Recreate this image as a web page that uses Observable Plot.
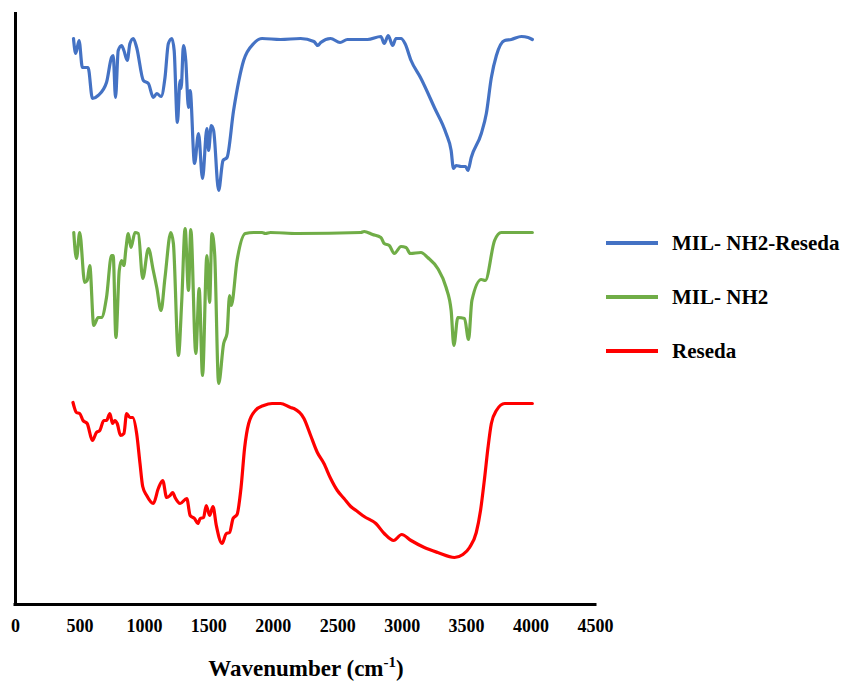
<!DOCTYPE html>
<html><head><meta charset="utf-8">
<script src="https://cdn.jsdelivr.net/npm/d3@7"></script>
<script src="https://cdn.jsdelivr.net/npm/@observablehq/plot@0.6"></script>
<style>body{margin:0;background:#fff} svg{display:block}</style>
</head><body><div id="chart"></div>
<script>
const seriesNames = ["MIL- NH2-Reseda", "MIL- NH2", "Reseda"];
const seriesColors = ["#4472C4", "#70AD47", "#FF0000"];
const xTicks = [0, 500, 1000, 1500, 2000, 2500, 3000, 3500, 4000, 4500];

// [wavenumber (cm-1), offset transmittance (a.u.)]
const milNH2Reseda = [
[450,566],[467,551],[493,564],[519,537],[563,537],[597,506],[641,509],[706,522],[745,547],[758,549],
[776,507],[797,554],[823,559],[841,554],[867,544],[888,561],[914,566],[940,557],[992,524],[1031,521],
[1069,507],[1096,511],[1129,508],[1160,527],[1186,561],[1213,566],[1231,554],[1256,482],[1277,524],[1285,516],
[1303,559],[1321,544],[1342,497],[1355,514],[1389,441],[1420,471],[1451,426],[1485,476],[1498,454],[1519,479],
[1537,474],[1576,414],[1610,444],[1641,447],[1692,494],[1770,544],[1848,561],[1913,566],[2056,565],[2212,566],
[2315,563],[2346,559],[2368,562],[2445,566],[2518,562],[2575,565],[2731,565],[2835,568],[2861,561],[2892,569],
[2926,559],[2952,566],[2991,566],[3022,561],[3069,544],[3146,526],[3250,497],[3341,471],[3380,454],[3398,436],
[3419,439],[3458,438],[3492,438],[3510,434],[3536,447],[3614,471],[3653,491],[3692,527],[3731,549],[3795,564],
[3847,565],[3925,568],[3977,567],[4010,565]
];
const milNH2 = [
[452,372],[473,346],[498,372],[537,322],[556,324],[576,339],[607,279],[641,287],[667,287],[706,307],
[745,349],[758,349],[779,267],[805,334],[823,344],[841,339],[857,356],[875,371],[896,357],[927,372],
[953,371],[987,326],[1031,356],[1069,334],[1096,317],[1129,294],[1160,327],[1205,372],[1225,361],[1264,249],
[1290,304],[1316,376],[1342,314],[1360,375],[1399,251],[1425,316],[1451,229],[1485,349],[1506,302],[1524,371],
[1545,351],[1576,221],[1615,261],[1641,271],[1661,309],[1674,299],[1719,344],[1783,371],[1848,372],[1913,372],
[1939,371],[1978,372],[2186,371],[2679,372],[2705,373],[2770,370],[2835,367],[2861,361],[2900,359],[2939,351],
[2991,358],[3030,357],[3063,351],[3146,352],[3198,347],[3276,336],[3341,317],[3380,294],[3401,259],[3432,287],
[3484,286],[3515,265],[3541,304],[3614,325],[3645,324],[3717,364],[3769,372],[3821,372],[4010,372]
];
const reseda = [
[446,202],[473,192],[498,191],[524,184],[556,181],[597,164],[628,172],[654,174],[685,184],[706,184],
[732,191],[753,181],[771,184],[789,181],[815,169],[841,171],[862,191],[888,187],[909,187],[940,171],
[966,141],[987,118],[1018,109],[1069,101],[1108,116],[1142,124],[1173,107],[1199,109],[1220,112],[1238,107],
[1277,101],[1329,106],[1355,89],[1389,86],[1415,81],[1433,86],[1459,87],[1480,99],[1506,89],[1532,98],
[1558,79],[1602,61],[1636,71],[1661,72],[1688,86],[1719,90],[1750,117],[1778,157],[1809,181],[1861,194],
[1926,199],[1991,201],[2056,201],[2134,197],[2160,196],[2238,186],[2290,169],[2342,152],[2393,141],[2445,126],
[2497,114],[2549,106],[2601,98],[2653,93],[2705,88],[2796,81],[2861,71],[2934,64],[2996,70],[3069,64],
[3172,57],[3276,52],[3406,47],[3471,50],[3523,57],[3575,72],[3608,94],[3640,127],[3666,157],[3692,181],
[3731,194],[3795,201],[3899,201],[4010,201]
];

const allSeries = [milNH2Reseda, milNH2, reseda];
const rows = [];
allSeries.forEach((s, i) => s.forEach(([w, t]) => rows.push({series: seriesNames[i], w, t})));

const serif = "'Times New Roman','Liberation Serif',Times,serif";

const plot = Plot.plot({
  width: 844, height: 681,
  marginTop: 12, marginBottom: 77, marginLeft: 15, marginRight: 249,
  style: {fontFamily: serif, fontWeight: "bold", fontSize: "18px", color: "#000", background: "#fff"},
  x: {domain: [0, 4500]},
  y: {domain: [0, 592], axis: null},
  color: {domain: seriesNames, range: seriesColors},
  marks: [
    Plot.lineY(rows, {x: "w", y: "t", z: "series", stroke: "series", curve: "monotone-x", strokeWidth: 3.2, strokeLinejoin: "round", strokeLinecap: "round"}),
    Plot.ruleX([0], {stroke: "#000", strokeWidth: 3}),
    Plot.ruleY([0], {stroke: "#000", strokeWidth: 3, strokeLinecap: "square"}),
    Plot.axisX({ticks: xTicks, tickSize: 0, tickPadding: 15, tickFormat: d => String(d), label: null, fontSize: 18, fontWeight: "bold", fontFamily: serif})
  ]
});

document.getElementById("chart").appendChild(plot);

const svg = d3.select(plot);
// x-axis title with superscript
const title = svg.append("text")
  .attr("x", 306).attr("y", 676)
  .attr("text-anchor", "middle")
  .attr("font-family", serif).attr("font-weight", "bold").attr("font-size", 23)
  .attr("fill", "#000");
title.append("tspan").text("Wavenumber (cm");
title.append("tspan").attr("dy", -9).attr("font-size", 15).text("-1");
title.append("tspan").attr("dy", 9).text(")");

// legend
const lg = svg.append("g").attr("font-family", serif).attr("font-weight", "bold").attr("font-size", 21).attr("text-anchor", "start");
seriesNames.forEach((name, i) => {
  const y = 243 + i * 54;
  lg.append("line").attr("x1", 606).attr("x2", 658).attr("y1", y).attr("y2", y)
    .attr("stroke", seriesColors[i]).attr("stroke-width", 4);
  lg.append("text").attr("x", 672).attr("y", y).attr("dy", "0.35em").attr("fill", "#000").text(name);
});
</script></body></html>
